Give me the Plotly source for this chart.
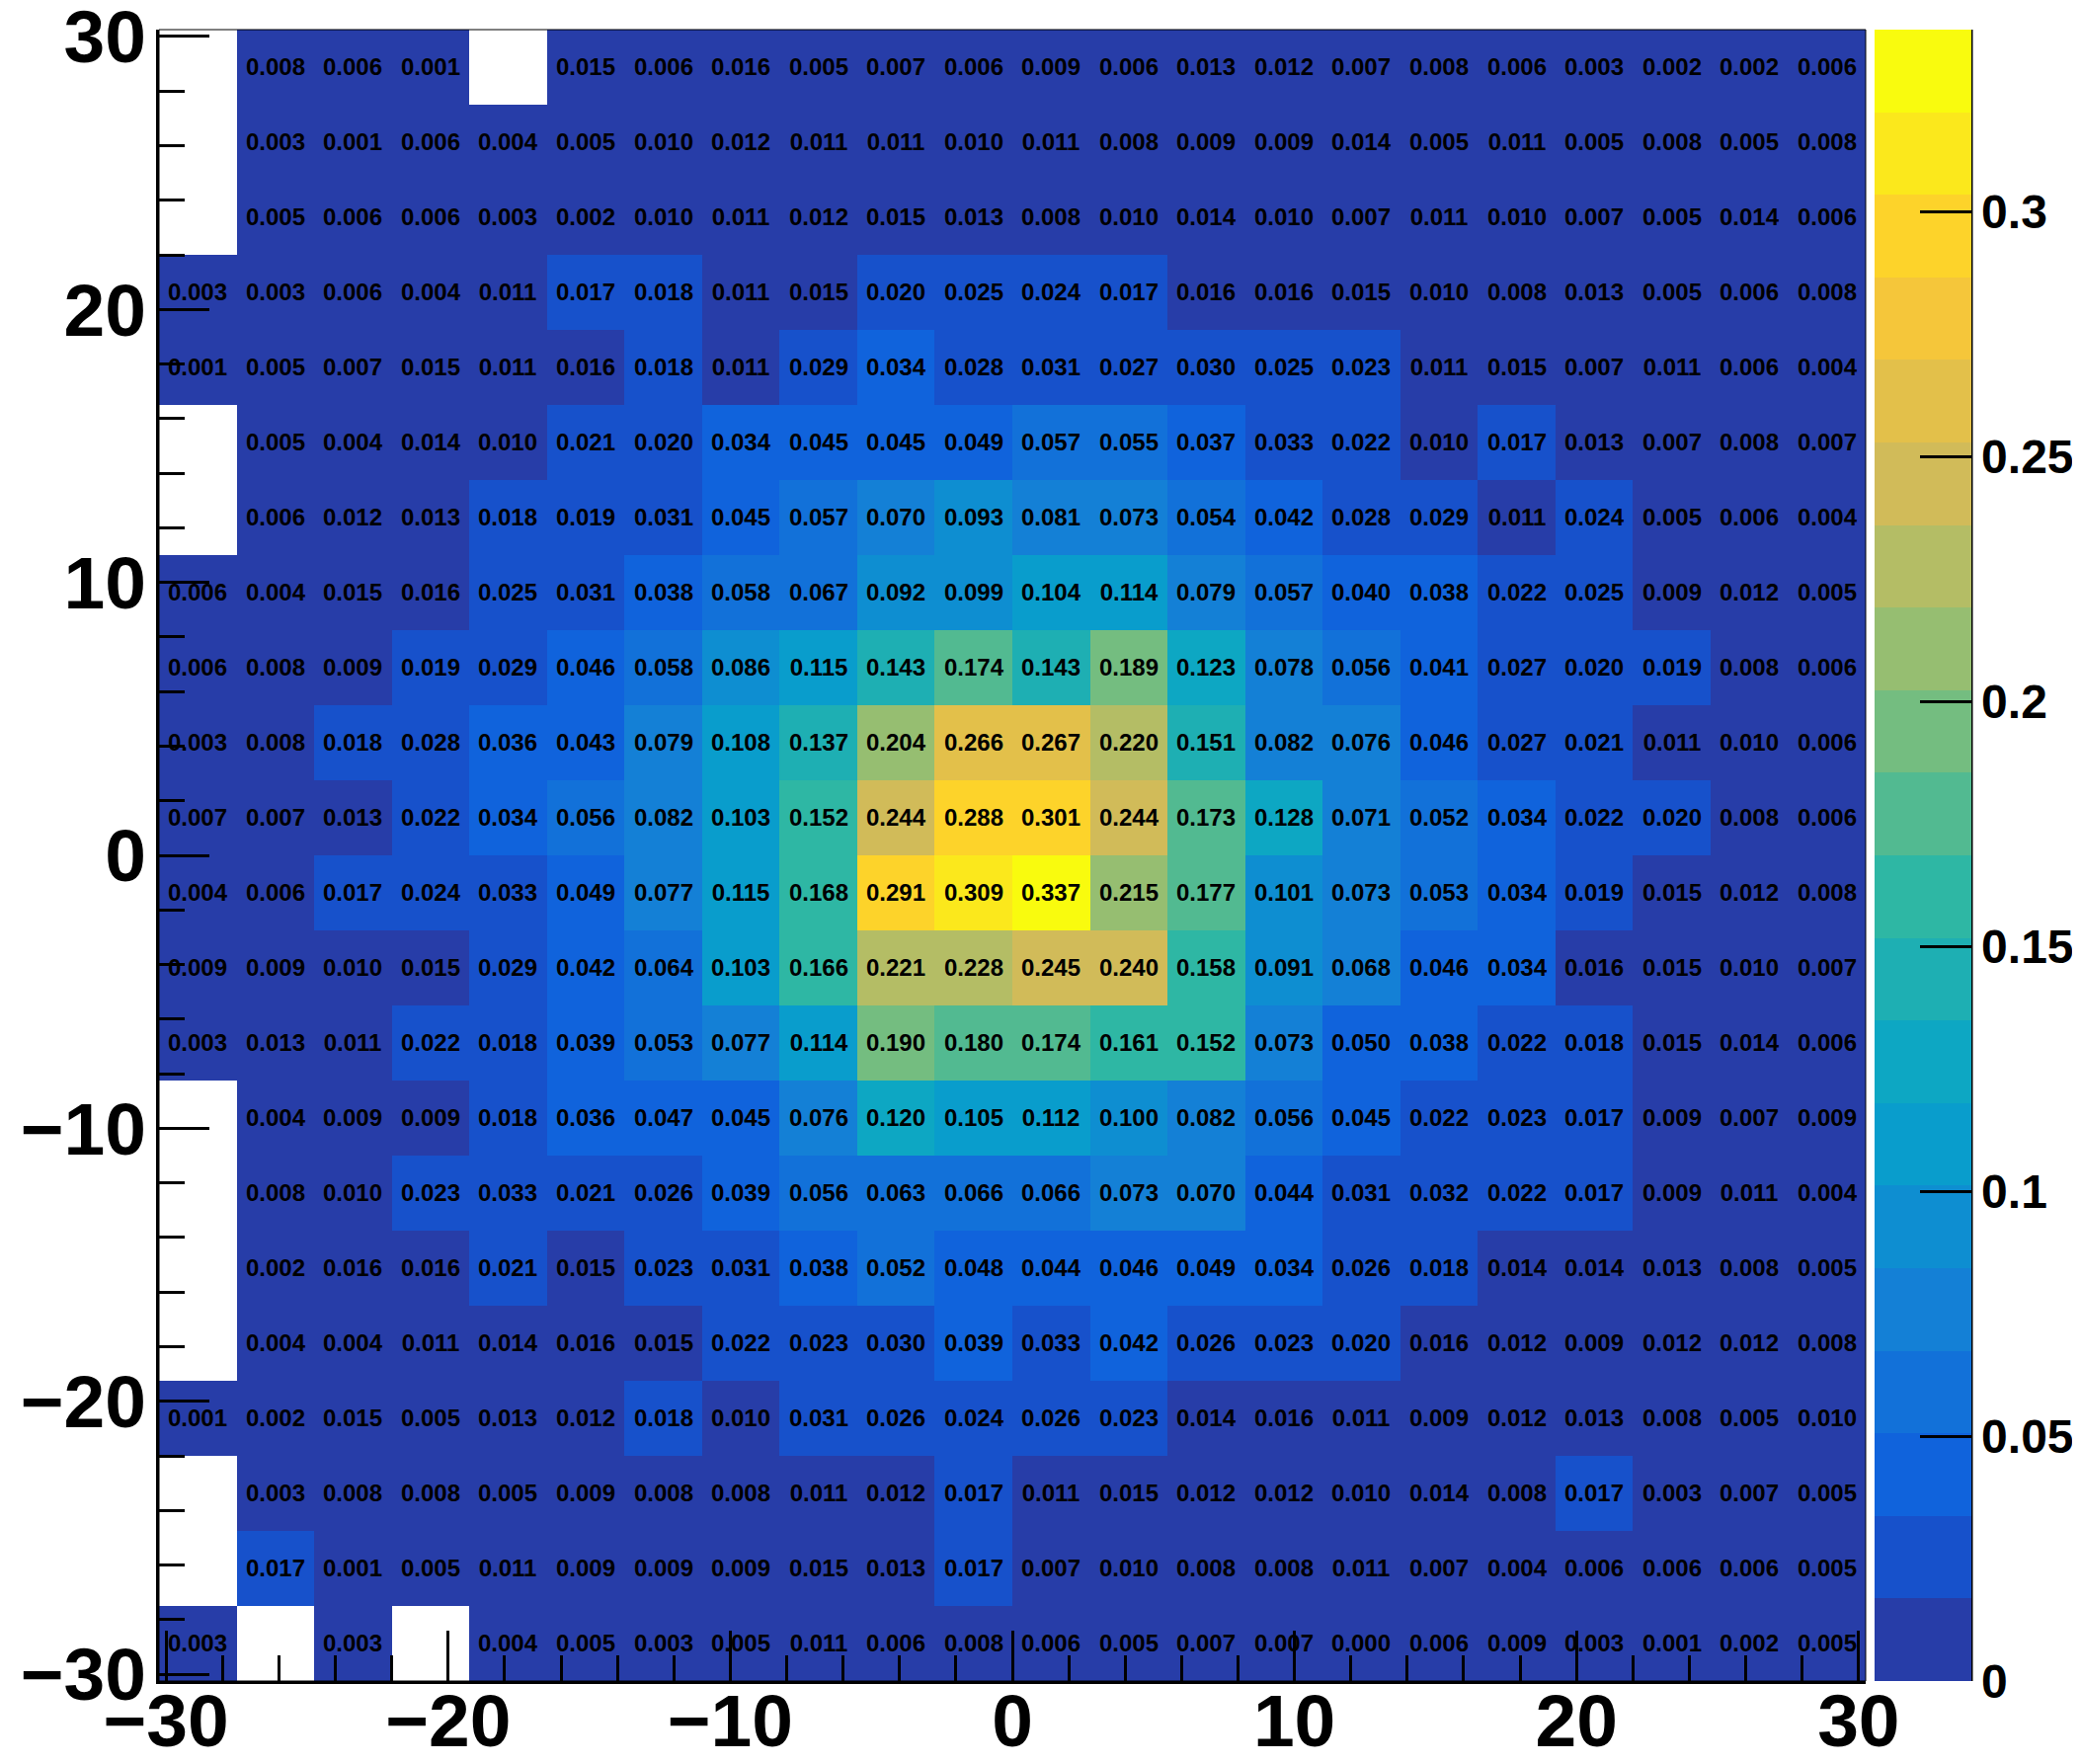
import numpy as np
import plotly.graph_objects as go

# Bin edges (22 x 22 bins)
x_edges = np.linspace(-30.25, 30.25, 23)
y_edges = np.linspace(-30.25, 30.25, 23)

N = None
# rows listed from top (y ~ +30) to bottom (y ~ -30)
row21 = [N, 0.008, 0.006, 0.001, N, 0.015, 0.006, 0.016, 0.005, 0.007, 0.006, 0.009, 0.006, 0.013, 0.012, 0.007, 0.008, 0.006, 0.003, 0.002, 0.002, 0.006]
row20 = [N, 0.003, 0.001, 0.006, 0.004, 0.005, 0.010, 0.012, 0.011, 0.011, 0.010, 0.011, 0.008, 0.009, 0.009, 0.014, 0.005, 0.011, 0.005, 0.008, 0.005, 0.008]
row19 = [N, 0.005, 0.006, 0.006, 0.003, 0.002, 0.010, 0.011, 0.012, 0.015, 0.013, 0.008, 0.010, 0.014, 0.010, 0.007, 0.011, 0.010, 0.007, 0.005, 0.014, 0.006]
row18 = [0.003, 0.003, 0.006, 0.004, 0.011, 0.017, 0.018, 0.011, 0.015, 0.020, 0.025, 0.024, 0.017, 0.016, 0.016, 0.015, 0.010, 0.008, 0.013, 0.005, 0.006, 0.008]
row17 = [0.001, 0.005, 0.007, 0.015, 0.011, 0.016, 0.018, 0.011, 0.029, 0.034, 0.028, 0.031, 0.027, 0.030, 0.025, 0.023, 0.011, 0.015, 0.007, 0.011, 0.006, 0.004]
row16 = [N, 0.005, 0.004, 0.014, 0.010, 0.021, 0.020, 0.034, 0.045, 0.045, 0.049, 0.057, 0.055, 0.037, 0.033, 0.022, 0.010, 0.017, 0.013, 0.007, 0.008, 0.007]
row15 = [N, 0.006, 0.012, 0.013, 0.018, 0.019, 0.031, 0.045, 0.057, 0.070, 0.093, 0.081, 0.073, 0.054, 0.042, 0.028, 0.029, 0.011, 0.024, 0.005, 0.006, 0.004]
row14 = [0.006, 0.004, 0.015, 0.016, 0.025, 0.031, 0.038, 0.058, 0.067, 0.092, 0.099, 0.104, 0.114, 0.079, 0.057, 0.040, 0.038, 0.022, 0.025, 0.009, 0.012, 0.005]
row13 = [0.006, 0.008, 0.009, 0.019, 0.029, 0.046, 0.058, 0.086, 0.115, 0.143, 0.174, 0.143, 0.189, 0.123, 0.078, 0.056, 0.041, 0.027, 0.020, 0.019, 0.008, 0.006]
row12 = [0.003, 0.008, 0.018, 0.028, 0.036, 0.043, 0.079, 0.108, 0.137, 0.204, 0.266, 0.267, 0.220, 0.151, 0.082, 0.076, 0.046, 0.027, 0.021, 0.011, 0.010, 0.006]
row11 = [0.007, 0.007, 0.013, 0.022, 0.034, 0.056, 0.082, 0.103, 0.152, 0.244, 0.288, 0.301, 0.244, 0.173, 0.128, 0.071, 0.052, 0.034, 0.022, 0.020, 0.008, 0.006]
row10 = [0.004, 0.006, 0.017, 0.024, 0.033, 0.049, 0.077, 0.115, 0.168, 0.291, 0.309, 0.337, 0.215, 0.177, 0.101, 0.073, 0.053, 0.034, 0.019, 0.015, 0.012, 0.008]
row09 = [0.009, 0.009, 0.010, 0.015, 0.029, 0.042, 0.064, 0.103, 0.166, 0.221, 0.228, 0.245, 0.240, 0.158, 0.091, 0.068, 0.046, 0.034, 0.016, 0.015, 0.010, 0.007]
row08 = [0.003, 0.013, 0.011, 0.022, 0.018, 0.039, 0.053, 0.077, 0.114, 0.190, 0.180, 0.174, 0.161, 0.152, 0.073, 0.050, 0.038, 0.022, 0.018, 0.015, 0.014, 0.006]
row07 = [N, 0.004, 0.009, 0.009, 0.018, 0.036, 0.047, 0.045, 0.076, 0.120, 0.105, 0.112, 0.100, 0.082, 0.056, 0.045, 0.022, 0.023, 0.017, 0.009, 0.007, 0.009]
row06 = [N, 0.008, 0.010, 0.023, 0.033, 0.021, 0.026, 0.039, 0.056, 0.063, 0.066, 0.066, 0.073, 0.070, 0.044, 0.031, 0.032, 0.022, 0.017, 0.009, 0.011, 0.004]
row05 = [N, 0.002, 0.016, 0.016, 0.021, 0.015, 0.023, 0.031, 0.038, 0.052, 0.048, 0.044, 0.046, 0.049, 0.034, 0.026, 0.018, 0.014, 0.014, 0.013, 0.008, 0.005]
row04 = [N, 0.004, 0.004, 0.011, 0.014, 0.016, 0.015, 0.022, 0.023, 0.030, 0.039, 0.033, 0.042, 0.026, 0.023, 0.020, 0.016, 0.012, 0.009, 0.012, 0.012, 0.008]
row03 = [0.001, 0.002, 0.015, 0.005, 0.013, 0.012, 0.018, 0.010, 0.031, 0.026, 0.024, 0.026, 0.023, 0.014, 0.016, 0.011, 0.009, 0.012, 0.013, 0.008, 0.005, 0.010]
row02 = [N, 0.003, 0.008, 0.008, 0.005, 0.009, 0.008, 0.008, 0.011, 0.012, 0.017, 0.011, 0.015, 0.012, 0.012, 0.010, 0.014, 0.008, 0.017, 0.003, 0.007, 0.005]
row01 = [N, 0.017, 0.001, 0.005, 0.011, 0.009, 0.009, 0.009, 0.015, 0.013, 0.017, 0.007, 0.010, 0.008, 0.008, 0.011, 0.007, 0.004, 0.006, 0.006, 0.006, 0.005]
row00 = [0.003, N, 0.003, N, 0.004, 0.005, 0.003, 0.005, 0.011, 0.006, 0.008, 0.006, 0.005, 0.007, 0.007, 0.0003, 0.006, 0.009, 0.003, 0.001, 0.002, 0.005]

rows_top_down = [row21, row20, row19, row18, row17, row16, row15, row14, row13, row12, row11,
                 row10, row09, row08, row07, row06, row05, row04, row03, row02, row01, row00]
z = rows_top_down[::-1]
text = [["" if v is None else f"{v:.3f}" for v in r] for r in z]

x_centers = 0.5 * (x_edges[:-1] + x_edges[1:])
y_centers = 0.5 * (y_edges[:-1] + y_edges[1:])

axis_ticks = [-30, -20, -10, 0, 10, 20, 30]
axis_labels = ["\u221230", "\u221220", "\u221210", "0", "10", "20", "30"]

zmin, zmax = 0.0, 0.3371
n_contours = 20

# ROOT kBird palette
stops = [0.0000, 0.1250, 0.2500, 0.3750, 0.5000, 0.6250, 0.7500, 0.8750, 1.0000]
red   = [0.2082, 0.0592, 0.0780, 0.0232, 0.1802, 0.5301, 0.8186, 0.9956, 0.9764]
green = [0.1664, 0.3599, 0.5041, 0.6419, 0.7178, 0.7492, 0.7328, 0.7862, 0.9832]
blue  = [0.5293, 0.8684, 0.8385, 0.7914, 0.6425, 0.4662, 0.3499, 0.1968, 0.0539]
band_colors = []
for i in range(n_contours):
    idx = int((i + 0.99) * 255 / n_contours)
    t = idx / 254.0
    r = np.interp(t, stops, red); g = np.interp(t, stops, green); b = np.interp(t, stops, blue)
    band_colors.append(f"rgb({round(r*255)},{round(g*255)},{round(b*255)})")
colorscale = []
for i, c in enumerate(band_colors):
    colorscale.append([i / n_contours, c])
    colorscale.append([(i + 1) / n_contours, c])

# page layout (page coordinates), body has an 8px margin
OFF = 8
PAGE_W, PAGE_H = 2106, 1786
W, H = PAGE_W - OFF, PAGE_H - OFF
plot_l, plot_r, plot_t, plot_b = 161, 1889, 30, 1702
ml = plot_l - OFF
mt = plot_t - OFF
mr = PAGE_W - plot_r
mb = PAGE_H - plot_b
pw = plot_r - plot_l
cb_left_px = 1898
cb_thick = 98
cb_x = (cb_left_px - plot_l) / pw
cb_right = cb_x + cb_thick / pw

cb_ticks = [0, 0.05, 0.1, 0.15, 0.2, 0.25, 0.3]
cb_labels = ["0", "0.05", "0.1", "0.15", "0.2", "0.25", "0.3"]

FONT = "Liberation Sans, Arial, Helvetica"

fig = go.Figure(go.Heatmap(
    x=x_centers, y=y_centers, z=z,
    text=text, texttemplate="%{text}",
    textfont=dict(family=FONT, size=24, color="black", weight="bold"),
    colorscale=colorscale, zmin=zmin, zmax=zmax,
    hoverongaps=False,
    colorbar=dict(
        x=cb_x, xanchor="left", y=0.5, yanchor="middle",
        len=1, lenmode="fraction", thickness=cb_thick, thicknessmode="pixels",
        xpad=0, ypad=0, outlinewidth=0,
        ticks="inside", ticklen=52, tickwidth=3, tickcolor="black",
        tickvals=cb_ticks, ticktext=cb_labels, ticklabeloverflow="allow",
        tickfont=dict(family=FONT, size=48, color="black", weight="bold"),
    ),
))

axis_common = dict(
    range=[-30.25, 30.25], tickmode="array", tickvals=axis_ticks, ticktext=axis_labels,
    ticks="inside", ticklen=51, tickwidth=3, tickcolor="black",
    showline=True, linewidth=3, linecolor="black",
    showgrid=False, zeroline=False, automargin=False, ticklabeloverflow="allow",
    tickfont=dict(family=FONT, size=75, color="black", weight="bold"),
    minor=dict(tick0=-30, dtick=2, ticks="inside", ticklen=26, tickwidth=3,
               tickcolor="black", showgrid=False),
)

fig.update_layout(
    width=W, height=H,
    margin=dict(l=ml, r=mr, t=mt, b=mb, autoexpand=False),
    paper_bgcolor="white", plot_bgcolor="white",
    xaxis=dict(**axis_common, ticklabelstandoff=-27),
    yaxis=dict(**axis_common, ticklabelstandoff=-5),
    showlegend=False,
    shapes=[
        dict(type="rect", xref="x domain", yref="y domain", x0=0, x1=1, y0=0, y1=1,
             line=dict(color="black", width=1), layer="above"),
        dict(type="line", xref="paper", yref="paper", x0=cb_right, x1=cb_right, y0=0, y1=1,
             line=dict(color="black", width=3), layer="above"),
    ],
)

fig.write_html("out.html")
